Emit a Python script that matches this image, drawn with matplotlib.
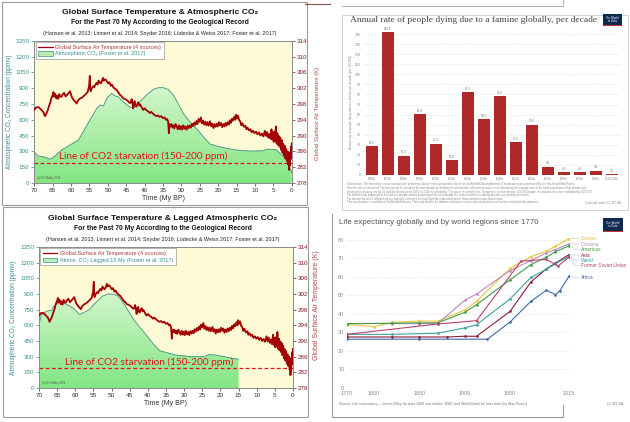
import numpy as np
import matplotlib
matplotlib.use("Agg")
import matplotlib.pyplot as plt
from matplotlib.patches import Rectangle, Polygon
from matplotlib.lines import Line2D
from matplotlib.colors import LinearSegmentedColormap

plt.rcParams['font.family'] = ['Liberation Sans', 'DejaVu Sans']

# ---------------- data: climate panels ----------------
co2_time = [70, 69, 67.5, 65.7, 64.4, 62.6, 60.3, 58, 56.2, 54.9, 53, 52.1, 51.2, 50.3, 49, 48,
            47.2, 45.8, 44.4, 43.1, 41.7, 40.4, 39, 37.6, 36.3, 34.9, 33.6, 32.2, 30.9, 29.5,
            27.7, 25.9, 24, 22.2, 20.4, 17.7, 15, 11.3, 7.7, 6.8, 5.5, 4.1, 2.7, 1.4, 0.6, 0]
co2_ppm = [297, 256, 250, 226, 256, 313, 360, 408, 518, 597, 708, 740, 730, 803, 850, 825,
           819, 771, 730, 708, 755, 803, 850, 888, 904, 904, 888, 834, 755, 660,
           581, 518, 439, 370, 351, 329, 313, 303, 306, 322, 319, 313, 265, 218, 155, 100]

co2_lag_time = [70, 69.4, 68, 66.6, 65.7, 64.3, 62.9, 61.5, 60.2, 58.8, 57.4, 56, 55.1, 53.7,
                52.4, 51, 49.6, 48.2, 46.9, 45.5, 44.1, 42.3, 40.4, 38.6, 36.7, 34.9, 32.2,
                28.5, 24.8, 23, 21.1, 18.4, 16.5, 15.2, 15]
co2_lag_ppm = [607, 696, 735, 744, 792, 824, 808, 785, 754, 703, 728, 754, 792, 840,
               881, 900, 900, 881, 824, 744, 665, 585, 506, 426, 356, 340, 315,
               302, 299, 321, 315, 296, 283, 277, 277]

temp_time = [70.0, 69.5, 69.0, 68.5, 68.0, 67.5, 67.1, 66.7, 66.3, 66.0, 65.7, 65.5, 65.3, 65.0,
             64.8, 64.6, 64.4, 64.2, 64.0, 63.8, 63.5, 63.2, 63.0, 62.6, 62.3, 61.9, 61.5, 61.2,
             60.8, 60.3, 60.0, 59.8, 59.5, 59.2, 58.8, 58.5, 58.2, 57.9, 57.5, 57.0, 56.7, 56.3,
             55.9, 55.5, 55.3, 55.1, 54.9, 54.8, 54.7, 54.4, 54.0, 53.7, 53.4, 53.1, 52.8, 52.5,
             52.2, 51.9, 51.6, 51.3, 51.1, 50.8, 50.5, 50.2, 49.9, 49.6, 49.2, 48.9, 48.5, 48.1,
             47.6, 47.2, 46.7, 46.3, 45.8, 45.4, 44.9, 44.5, 44.0, 43.7, 43.5, 43.3, 43.1, 42.9,
             42.7, 42.5, 42.2, 42.0, 41.7, 41.5, 41.2, 40.9, 40.6, 40.4, 40.0, 39.5, 39.0, 38.6,
             38.2, 37.7, 37.3, 36.8, 36.4, 35.9, 35.5, 35.0, 34.6, 34.2, 33.9, 33.6, 33.4, 33.2,
             33.0, 32.7, 32.4, 32.2, 31.9, 31.6, 31.3, 31.0, 30.7, 30.4, 30.1, 29.8, 29.5, 29.2,
             28.9, 28.6, 28.3, 28.0, 27.7, 27.4, 27.1, 26.8, 26.5, 26.2, 25.9, 25.6, 25.3, 25.0,
             24.7, 24.4, 24.1, 23.8, 23.5, 23.2, 22.9, 22.6, 22.2, 21.9, 21.6, 21.3, 21.0, 20.7,
             20.4, 20.1, 19.8, 19.5, 19.2, 18.9, 18.6, 18.3, 18.0, 17.7, 17.4, 17.1, 16.8, 16.5,
             16.2, 15.9, 15.6, 15.3, 15.1, 14.9, 14.6, 14.3, 14.0, 13.7, 13.4, 13.0, 12.6, 12.3,
             12.0, 11.6, 11.2, 10.9, 10.5, 10.1, 9.7, 9.3, 8.9, 8.5, 8.1, 7.7, 7.3, 7.0,
             6.7, 6.4, 6.1, 5.8, 5.5, 5.3, 5.1, 4.9, 4.7, 4.5, 4.3, 4.1, 3.9, 3.7,
             3.5, 3.3, 3.1, 2.9, 2.7, 2.5, 2.3, 2.1, 1.9, 1.7, 1.5, 1.3, 1.1, 0.9,
             0.8, 0.7, 0.6, 0.5, 0.4, 0.3, 0.2, 0.1, 0.0]
temp_K = [296.5, 297.1, 297.2, 296.9, 296.4, 295.9, 294.9, 295.6, 296.5, 297.5, 298.2, 299.0, 299.6, 300.3,
          301.0, 299.8, 300.6, 300.2, 299.4, 300.1, 299.3, 300.5, 299.9, 299.8, 300.4, 300.8, 299.9, 300.2,
          300.6, 301.2, 300.4, 299.7, 299.3, 298.9, 298.5, 298.1, 298.7, 299.1, 299.4, 299.6, 299.9, 300.2,
          300.6, 301.0, 301.7, 302.5, 305.1, 302.0, 301.2, 301.9, 302.5, 302.2, 302.9, 303.3, 302.9, 303.9,
          303.4, 303.2, 303.8, 304.6, 303.9, 304.2, 304.1, 303.6, 303.2, 303.5, 302.6, 302.9, 302.2, 301.9,
          301.5, 301.0, 300.3, 300.0, 299.4, 299.3, 299.0, 298.7, 298.2, 298.6, 299.2, 298.0, 296.9, 298.4,
          298.7, 297.5, 297.3, 298.0, 298.4, 297.6, 297.9, 297.3, 296.8, 296.5, 296.9, 296.4, 296.1, 295.7,
          296.0, 295.5, 295.2, 294.9, 295.1, 294.7, 294.9, 294.4, 294.6, 294.0, 294.2, 293.6, 290.6, 292.9,
          292.3, 292.9, 292.0, 292.6, 291.8, 292.9, 292.3, 291.6, 292.6, 291.6, 292.4, 291.5, 292.6, 291.7,
          292.3, 291.5, 292.5, 291.9, 292.6, 292.0, 293.0, 292.4, 293.3, 292.7, 293.7, 292.9, 294.2, 293.5,
          294.6, 293.1, 293.8, 292.8, 293.5, 292.6, 293.4, 292.5, 293.6, 292.4, 293.0, 291.9, 292.9, 292.2,
          293.0, 292.3, 293.4, 292.6, 293.2, 292.1, 292.9, 292.3, 293.2, 292.5, 293.4, 292.8, 293.9, 293.2,
          294.3, 293.8, 294.8, 294.0, 295.3, 294.4, 295.0, 293.9, 293.6, 292.6, 293.1, 292.2, 292.5, 291.6,
          292.0, 291.3, 291.6, 290.8, 291.2, 290.6, 291.0, 290.3, 290.8, 290.0, 290.5, 289.8, 291.2, 289.9,
          290.9, 289.5, 290.4, 289.2, 291.6, 289.0, 290.8, 288.4, 291.0, 288.6, 292.3, 288.0, 290.6, 287.6,
          289.9, 287.2, 289.5, 286.4, 288.8, 285.6, 287.9, 285.0, 287.4, 284.2, 286.6, 283.6, 286.0, 282.6,
          285.4, 281.3, 284.6, 282.4, 285.8, 284.0, 287.2, 285.5, 288.0]
starvation_ppm = 190
co2_ticks = list(range(0, 1351, 150))
temp_ticks = list(range(278, 315, 4))
time_ticks = list(range(70, -1, -5))

# ---------------- data: famine chart ----------------
famine_decades = ['1860s', '1870s', '1880s', '1890s', '1900s', '1910s', '1920s', '1930s',
                  '1940s', '1950s', '1960s', '1970s', '1980s', '1990s', '2000s', '2010-2016']
famine_rate = [28.6, 142.0, 19.3, 60.4, 31.2, 14.8, 82.1, 55.5, 78.6, 32.3, 50.0, 8.4, 2.6, 2.6, 4.3, 0.5]
famine_ticks = list(range(0, 141, 10))

# ---------------- data: life expectancy ----------------
europe_years = [1770, 1800, 1820, 1850, 1870, 1900, 1913, 1950, 1973, 1990, 2000, 2015]
europe_le = [34.2, 33.1, 35.4, 36.1, 36.0, 42.0, 46.8, 64.5, 70.8, 73.7, 76.4, 80.5]
oceania_years = [1770, 1820, 1850, 1870, 1900, 1913, 1950, 1973, 1990, 2000, 2015]
oceania_le = [34.7, 34.7, 34.7, 34.7, 47.3, 50.7, 63.3, 68.7, 72.8, 74.6, 77.7]
americas_years = [1770, 1820, 1850, 1870, 1900, 1913, 1950, 1973, 1990, 2000, 2015]
americas_le = [34.7, 34.9, 35.1, 35.1, 40.8, 44.9, 58.4, 66.5, 70.5, 73.5, 76.6]
asia_years = [1770, 1820, 1850, 1880, 1900, 1913, 1950, 1973, 1990, 2000, 2015]
asia_le = [27.5, 27.5, 27.5, 27.5, 27.9, 27.9, 41.3, 57.2, 64.2, 67.3, 71.9]
world_years = [1770, 1820, 1870, 1900, 1913, 1950, 1973, 1990, 2000, 2015]
world_le = [28.9, 28.9, 29.5, 32.4, 34.1, 48.0, 59.6, 64.0, 66.9, 71.0]
fsu_years = [1770, 1870, 1913, 1962, 1990, 2003, 2015]
fsu_le = [28.9, 34.5, 36.3, 68.4, 69.3, 65.8, 70.5]
africa_years = [1770, 1850, 1925, 1950, 1973, 1990, 2000, 2005, 2015]
africa_le = [26.3, 26.3, 26.3, 35.6, 46.7, 52.7, 50.3, 52.5, 60.2]
region_names = ['Europe', 'Oceania', 'Americas', 'Asia', 'World', 'Former Soviet Union', 'Africa']
life_xticks = [1770, 1800, 1850, 1900, 1950, 2015]
life_yticks = list(range(0, 81, 10))

# ---------------- layout helpers ----------------
W, H = 630, 422
fig = plt.figure(figsize=(6.3, 4.22), dpi=100)


def box(x0, y0, x1, y1):
    return [x0 / W, 1 - y1 / H, (x1 - x0) / W, (y1 - y0) / H]


def fx(x):
    return x / W


def fy(y):
    return 1 - y / H


def frame(x0, y0, x1, y1, color='#9a9a9a', lw=0.8):
    fig.add_artist(Rectangle((fx(x0), fy(y1)), (x1 - x0) / W, (y1 - y0) / H,
                             transform=fig.transFigure, fill=False, ec=color, lw=lw))


def fline(xs, ys, color='#9a9a9a', lw=0.8):
    fig.add_artist(Line2D([fx(x) for x in xs], [fy(y) for y in ys],
                          transform=fig.transFigure, color=color, lw=lw))


TEAL = '#3b8f91'
DRED = '#a30000'
green_cmap = LinearSegmentedColormap.from_list('g', ['#82e682', '#dbf7d3'])


def climate_panel(axbox, title_y, cx, title, co2_label, ct, cv, right_label_y, right_fs,
                  text_x):
    fig.text(fx(cx), fy(title_y), title, ha='center', va='center', fontsize=6.1,
             fontweight='bold', color='#111')
    fig.text(fx(cx), fy(title_y + 11), 'For the Past 70 My According to the Geological Record',
             ha='center', va='center', fontsize=4.9, fontweight='bold', color='#111')
    fig.text(fx(cx), fy(title_y + 21),
             '(Hansen et al. 2013; Linnert et al. 2014; Snyder 2016; L\u00fcdecke & Weiss 2017; Foster et al. 2017)',
             ha='center', va='center', fontsize=3.9, color='#222')

    ax = fig.add_axes(box(*axbox))
    ax.set_facecolor('#fffad6')
    verts = [(ct[0], 0)] + list(zip(ct, cv)) + [(ct[-1], 0)]
    poly = Polygon(verts, closed=True, fc='none', ec='none')
    ax.add_patch(poly)
    grad = np.linspace(0, 1, 256).reshape(-1, 1)
    im = ax.imshow(grad, extent=[70, 0, 0, 1000], origin='lower', aspect='auto',
                   cmap=green_cmap, zorder=1)
    im.set_clip_path(poly)
    ax.plot(ct, cv, color='#3f8f86', lw=0.6, zorder=2)
    ax.axhline(starvation_ppm, color='#e8101a', ls=(0, (3, 2)), lw=0.9, zorder=3)
    ax.text(text_x, starvation_ppm + 15, 'Line of CO2 starvation (150-200 ppm)',
            color='#e8101a', fontsize=7.2, family=['Lato', 'DejaVu Sans'], va='bottom', zorder=6)
    ax.text(0.012, 0.025, '(c) Neil Mobley 2018', transform=ax.transAxes, fontsize=1.8,
            color='#555', zorder=6)
    ax.set_xlim(70, 0)
    ax.set_ylim(0, 1350)
    ax.set_xticks(time_ticks)
    ax.set_yticks(co2_ticks)
    ax.tick_params(axis='y', colors=TEAL, labelsize=4.5, length=2, width=0.5, pad=1.5)
    ax.tick_params(axis='x', colors='#333', labelsize=4.6, length=2, width=0.5, pad=1.5)
    for s in ax.spines.values():
        s.set_color('#8a8a8a')
        s.set_linewidth(0.6)
    ax.set_xlabel('Time (My BP)', fontsize=5, color='#333', labelpad=1.5)
    ax.set_ylabel('Atmospheric CO\u2082 Concentration (ppmv)', fontsize=4.7, color=TEAL, labelpad=2)

    ax2 = ax.twinx()
    ax2.plot(temp_time, temp_K, color=DRED, lw=1.3, zorder=5)
    ax2.set_ylim(278, 314)
    ax2.set_yticks(temp_ticks)
    ax2.tick_params(axis='y', colors='#8b1c1c', labelsize=4.5, length=2, width=0.5, pad=1.5)
    for s in ax2.spines.values():
        s.set_color('#8a8a8a')
        s.set_linewidth(0.6)
    h_line = Line2D([], [], color=DRED, lw=0.9)
    h_patch = Rectangle((0, 0), 1, 1, fc='#b9f0b2', ec='#3f8f86', lw=0.5)
    leg = ax2.legend([h_line, h_patch],
                     ['Global Surface Air Temperature (4 sources)', co2_label],
                     loc='upper left', fontsize=4.0, frameon=True, fancybox=False,
                     edgecolor='#9a9a9a', facecolor='white', framealpha=1, borderpad=0.45,
                     handlelength=2.6, handleheight=0.9, labelspacing=0.25, borderaxespad=0.25,
                     handletextpad=0.5)
    leg.get_frame().set_linewidth(0.5)
    for t, c in zip(leg.get_texts(), ['#b03a3a', TEAL]):
        t.set_color(c)
    fig.text(fx(317), fy(right_label_y), 'Global Surface Air Temperature (K)', rotation=90,
             ha='center', va='center', fontsize=right_fs, color='#b04a4a')


# ---------------- frames of the composite ----------------
frame(2, 2, 307, 205)
frame(3, 207, 308, 417)
fline([305, 330], [4, 4], color='#8b4a4a', lw=0.8)
fline([342, 563], [6, 6], color='#b0b0b0', lw=0.7)
fline([563, 563], [0, 6], color='#b0b0b0', lw=0.7)
frame(342, 15, 628, 210, color='#d0d0d0', lw=0.7)
fline([332, 332, 563, 563], [214, 417, 417, 405], color='#9a9a9a', lw=0.8)

# ---------------- climate panels ----------------
climate_panel((34.3, 40.7, 291.7, 183), 12, 160, 'Global Surface Temperature & Atmospheric CO\u2082',
              'Atmospheric CO\u2082 (Foster et al. 2017)', co2_time, co2_ppm, 113, 4.3, 63.3)
climate_panel((39, 247, 293, 388), 218, 163, 'Global Surface Temperature & Lagged Atmospheric CO\u2082',
              'Atmos. CO\u2082 Lagged 15 My (Foster et al. 2017)', co2_lag_time, co2_lag_ppm, 305, 5.0, 62.8)


def owid_logo(x0, y0, x1, y1, fs):
    fig.add_artist(Rectangle((fx(x0), fy(y1)), (x1 - x0) / W, (y1 - y0) / H,
                             transform=fig.transFigure, fc='#0f2a4f', ec='none'))
    fig.add_artist(Rectangle((fx(x0), fy(y1)), (x1 - x0) / W, 1.3 / H,
                             transform=fig.transFigure, fc='#d0312b', ec='none'))
    fig.text(fx((x0 + x1) / 2), fy((y0 + y1) / 2 - 0.6), 'Our World\nin Data', ha='center',
             va='center', fontsize=fs, color='white', linespacing=0.9)


# ---------------- famine chart ----------------
fig.text(fx(350), fy(20), 'Annual rate of people dying due to a famine globally, per decade',
         family=['Liberation Serif', 'DejaVu Serif'], fontsize=6.8, color='#444', va='center')
owid_logo(603, 14, 622, 26, 2.0)

axf = fig.add_axes(box(363, 29, 621, 175))
xf = np.arange(len(famine_decades))
axf.bar(xf, famine_rate, width=0.74, color='#b0282a', zorder=3)
for xi, v in zip(xf, famine_rate):
    axf.text(xi, v + 1.2, f'{v:.1f}', ha='center', va='bottom', fontsize=2.2, color='#777')
axf.set_xlim(-0.5625, len(famine_decades) - 0.4375)
axf.set_ylim(0, 145)
axf.set_yticks(famine_ticks)
axf.set_xticks(xf)
axf.set_xticklabels(famine_decades)
axf.yaxis.grid(True, color='#dddddd', ls=(0, (3, 2)), lw=0.4)
axf.set_axisbelow(True)
for s in axf.spines.values():
    s.set_visible(False)
axf.tick_params(axis='both', length=0, labelsize=2.6, colors='#888', pad=1.5)
axf.tick_params(axis='x', labelsize=2.2, pad=1.2)
fig.text(fx(351), fy(102), 'Annual rate of people dying due to a famine per decade (per 100,000)',
         rotation=90, ha='center', va='center', fontsize=2.2, color='#888')
famine_notes = [
    'Data source: The rate of the excess mortality due to famines shown here is presented in detail on OurWorldInData.org/famines (The dataset was constructed by Joe Hasell and Max Roser).',
    'How the rate is calculated: The annual rate is calculated for each decade by dividing the total number of famine victims in each decade by the average size of the world population in that decade and',
    'dividing the resulting rate by 10 (and for the data from 2010 to 2016 it is divided by 7) to arrive at a yearly rate. To express it as the rate per 100,000 people, the annual rate is then multiplied by 100,000.',
    'For famines that happened at the end of a decade and the beginning of the next decade the famine victims are split by decade on a year by year basis.',
    'For famines for which different excess mortality estimates are published the midpoint between these estimates was chosen here.',
    'This visualization is available at OurWorldInData.org. There you find the full dataset and more research and visualizations on famines and global development.',
]
for i, line in enumerate(famine_notes):
    fig.text(fx(347), fy(184.5 + i * 3.6), line, fontsize=2.0, color='#8a8a8a', va='center')
fig.text(fx(621), fy(202.5), 'Licensed under CC-BY-SA', fontsize=2.2, color='#8a8a8a',
         ha='right', va='center')

# ---------------- life expectancy chart ----------------
fig.text(fx(339), fy(222), 'Life expectancy globally and by world regions since 1770',
         fontsize=5.7, color='#555', va='center')
owid_logo(603, 218, 623, 232, 2.1)

axl = fig.add_axes(box(347, 234, 569, 388))
axl.set_xlim(1770, 2015)
axl.set_ylim(0, 83)
axl.set_xticks(life_xticks)
axl.set_yticks(life_yticks)
axl.yaxis.grid(True, color='#d6d6d6', ls=(0, (1, 1.5)), lw=0.5)
axl.axhline(0, color='#bbbbbb', lw=0.5)
for s in axl.spines.values():
    s.set_visible(False)
axl.tick_params(axis='both', length=0, labelsize=3.9, colors='#888', pad=2)
axl.set_facecolor('none')

series = [(europe_years, europe_le, '#ecc73a'),
          (oceania_years, oceania_le, '#b98ac4'),
          (americas_years, americas_le, '#3f9c4a'),
          (asia_years, asia_le, '#8c1d3b'),
          (world_years, world_le, '#3fa2a2'),
          (fsu_years, fsu_le, '#b8436e'),
          (africa_years, africa_le, '#3f6aa8')]
label_y = [80.6, 77.6, 74.8, 71.6, 68.9, 66.1, 59.6]
for (yrs, le, col), name, ly in zip(series, region_names, label_y):
    axl.plot(yrs, le, color=col, lw=0.8, marker='o', ms=0.9, zorder=3)
    axl.plot([2017, 2021, 2026], [le[-1], ly, ly], color='#cccccc', lw=0.5, clip_on=False)
    axl.text(2028, ly, name, color=col, fontsize=3.5, va='center', clip_on=False)

fig.text(fx(339), fy(404),
         'Source: Life expectancy \u2013 James Riley for data 1990 and earlier; WHO and World Bank for later data (by Max Roser)',
         fontsize=2.6, color='#777', va='center')
fig.text(fx(623), fy(404), 'CC BY-SA', fontsize=2.6, color='#777', va='center', ha='right')

fig.savefig('out.png', dpi=100)
